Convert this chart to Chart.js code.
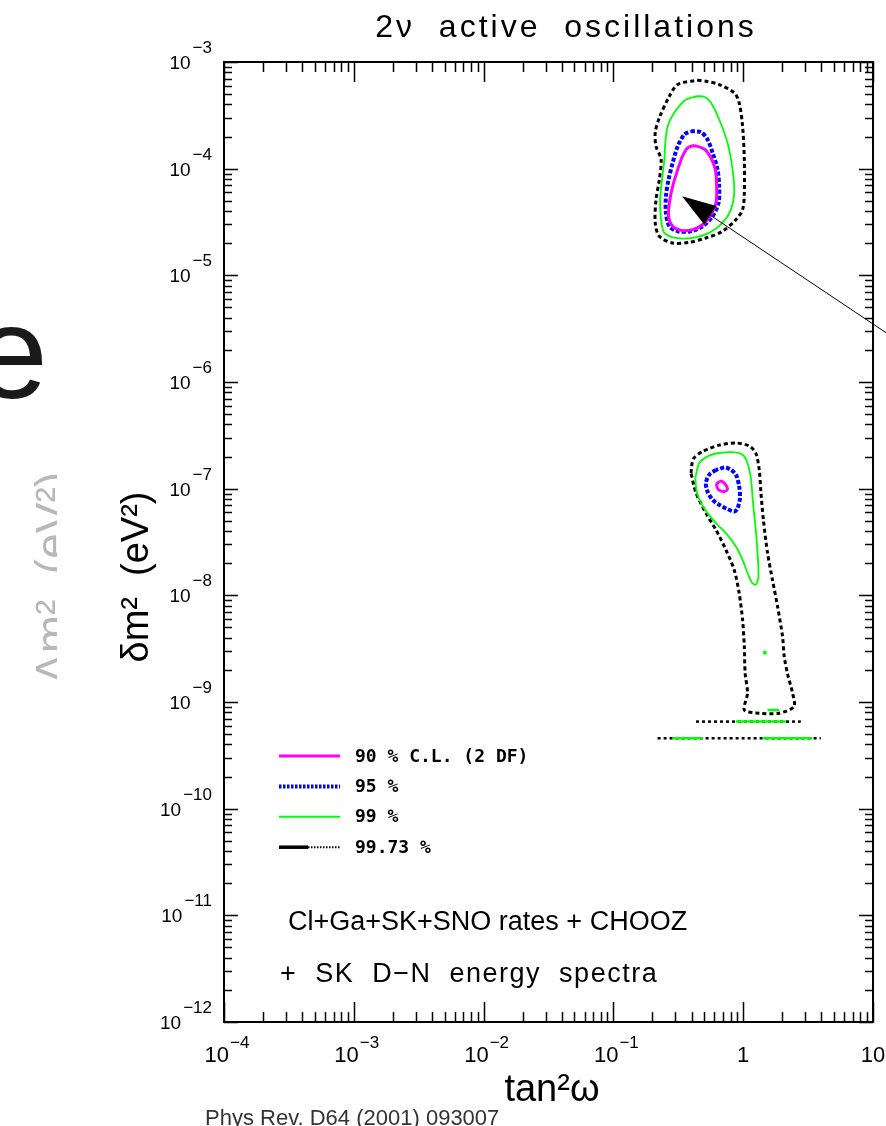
<!DOCTYPE html>
<html><head><meta charset="utf-8">
<script src="https://cdn.jsdelivr.net/npm/chart.js@4.4.0/dist/chart.umd.min.js"></script>
<style>html,body{margin:0;padding:0;background:#fff;overflow:hidden}#wrap{position:relative;width:886px;height:1126px}</style>
</head><body><div id="wrap"><canvas id="c" width="886" height="1126"></canvas></div>
<script>
// ---------- texts ----------
const titleText = '2\u03bd  active  oscillations';
const xTitle = 'tan\u00b2\u03c9';
const yTitle = '\u03b4m\u00b2  (eV\u00b2)';
const legendLabels = ['90 % C.L. (2 DF)', '95 %', '99 %', '99.73 %'];
const noteLines = ['Cl+Ga+SK+SNO rates + CHOOZ', '+  SK  D\u2212N  energy  spectra'];
const sourceText = 'Phys Rev. D64 (2001) 093007';
const fadedText = '\u0394m\u00b2  (eV\u00b2)';

// ---------- ticks ----------
const xTickValues = [1e-4, 1e-3, 1e-2, 1e-1, 1, 10];
const xTickLabels = [['10','\u22124'],['10','\u22123'],['10','\u22122'],['10','\u22121'],['1',''],['10','']];
const yTickValues = [1e-3,1e-4,1e-5,1e-6,1e-7,1e-8,1e-9,1e-10,1e-11,1e-12];
const yTickLabels = [['10','\u22123'],['10','\u22124'],['10','\u22125'],['10','\u22126'],['10','\u22127'],['10','\u22128'],['10','\u22129'],['10','\u221210'],['10','\u221211'],['10','\u221212']];
const decadeSteps = [1,2,3,4,5,6,7,8,9];

// ---------- contour data [tan^2 w, dm^2] ----------
const lma90 = [[0.420,1.65e-4],[0.501,1.53e-4],[0.565,1.26e-4],[0.610,9.8e-5],[0.624,6.84e-5],[0.617,4.78e-5],[0.565,3.71e-5],[0.486,2.99e-5],[0.407,2.68e-5],[0.332,2.64e-5],[0.286,2.88e-5],[0.266,3.58e-5],[0.270,4.78e-5],[0.286,6.84e-5],[0.313,9.8e-5],[0.341,1.31e-4],[0.373,1.57e-4]];
const lma95 = [[0.396,2.24e-4],[0.473,2.2e-4],[0.531,1.88e-4],[0.581,1.41e-4],[0.634,9.8e-5],[0.653,6.84e-5],[0.646,4.78e-5],[0.581,3.58e-5],[0.486,2.88e-5],[0.396,2.59e-5],[0.313,2.59e-5],[0.270,2.88e-5],[0.254,3.85e-5],[0.254,5.51e-5],[0.266,7.9e-5],[0.286,1.13e-4],[0.313,1.62e-4],[0.352,2.09e-4]];
const lma99 = [[0.445,4.78e-4],[0.501,4.72e-4],[0.565,4.14e-4],[0.653,2.89e-4],[0.757,1.75e-4],[0.828,9.8e-5],[0.853,5.93e-5],[0.804,4.13e-5],[0.693,3.1e-5],[0.547,2.5e-5],[0.407,2.24e-5],[0.303,2.24e-5],[0.247,2.5e-5],[0.233,3.33e-5],[0.229,5.13e-5],[0.237,7.9e-5],[0.247,1.22e-4],[0.251,1.75e-4],[0.262,2.5e-4],[0.294,3.34e-4],[0.362,4.45e-4]];
const lma9973 = [[0.445,6.75e-4],[0.516,6.6e-4],[0.653,6.15e-4],[0.853,5.14e-4],[0.931,4.14e-4],[0.989,2.5e-4],[1.02,1.22e-4],[1.02,5.93e-5],[0.989,4.13e-5],[0.879,3.33e-5],[0.693,2.59e-5],[0.516,2.24e-5],[0.385,2.04e-5],[0.286,2.01e-5],[0.226,2.32e-5],[0.210,3.1e-5],[0.213,5.13e-5],[0.226,7.9e-5],[0.233,1.22e-4],[0.213,1.62e-4],[0.210,2.17e-4],[0.226,3.0e-4],[0.270,4.78e-4],[0.313,6.15e-4]];

const low90 = [[0.653,1.17e-7],[0.624,1.09e-7],[0.646,9.77e-8],[0.715,9.4e-8],[0.757,9.9e-8],[0.728,1.10e-7],[0.686,1.17e-7]];
const low95 = [[0.617,1.50e-7],[0.547,1.35e-7],[0.516,1.13e-7],[0.531,9.4e-8],[0.581,7.87e-8],[0.653,7.06e-8],[0.757,6.44e-8],[0.853,6.11e-8],[0.904,6.55e-8],[0.944,8.17e-8],[0.931,1.05e-7],[0.879,1.35e-7],[0.804,1.50e-7],[0.728,1.58e-7]];
const low99 = [[0.428,1.26e-7],[0.459,1.74e-7],[0.547,2.04e-7],[0.653,2.16e-7],[0.828,2.20e-7],[0.989,2.08e-7],[1.08,1.74e-7],[1.15,1.21e-7],[1.19,7.33e-8],[1.25,4.11e-8],[1.29,2.49e-8],[1.31,1.50e-8],[1.25,1.26e-8],[1.17,1.31e-8],[1.08,1.62e-8],[0.989,2.15e-8],[0.879,2.87e-8],[0.736,3.83e-8],[0.617,4.75e-8],[0.531,5.9e-8],[0.473,7.33e-8],[0.438,9.4e-8]];
const low9973 = [[0.396,1.40e-7],[0.412,1.90e-7],[0.486,2.23e-7],[0.653,2.56e-7],[0.879,2.68e-7],[1.11,2.52e-7],[1.25,2.16e-7],[1.33,1.50e-7],[1.37,9.1e-8],[1.43,5.1e-8],[1.54,2.49e-8],[1.68,1.40e-8],[1.84,7.85e-9],[2.01,4.11e-9],[2.07,2.67e-9],[2.19,1.86e-9],[2.40,1.21e-9],[2.47,9.06e-10],[1.89,7.85e-10],[1.33,7.85e-10],[1.02,8.4e-10],[1.08,1.21e-9],[1.035,1.86e-9],[1.02,3.31e-9],[0.989,5.9e-9],[0.931,1.05e-8],[0.853,1.73e-8],[0.736,2.67e-8],[0.617,4.11e-8],[0.516,5.9e-8],[0.433,9.1e-8]];

const band9973a = [[0.433,6.55e-10],[2.78,6.55e-10]];
const band9973b = [[0.219,4.57e-10],[3.96,4.57e-10]];
const band99a = [[0.879,6.55e-10],[2.13,6.55e-10]];
const band99b1 = [[0.286,4.57e-10],[0.486,4.57e-10]];
const band99b2 = [[1.41,4.57e-10],[3.41,4.57e-10]];
const band99c = [[1.54,8.4e-10],[1.89,8.4e-10]];
const spot99 = [[1.47,2.9e-9]];

// annotation arrow (data coordinates)
const arrowTip = [0.338, 5.5e-5];
const arrowTail = [12.6, 2.9e-6];

// ---------- styles ----------
const C90 = '#ff00ff', C95 = '#0000ff', C99 = '#00ff00', C9973 = '#000000';
const FONT = '"Liberation Sans", Arial, sans-serif';

const pts = p => p.map(q => ({x: q[0], y: q[1]}));
const loop = p => pts(p.concat([p[0]]));
function line(data, color, width, dash, tension) {
  return {data, borderColor: color, backgroundColor: color, borderWidth: width, borderDash: dash || [],
          showLine: true, pointRadius: 0, tension: tension === undefined ? 0.3 : tension, fill: false};
}
const datasets = [
  line(loop(lma90), C90, 3),
  line(loop(low90), C90, 3),
  line(loop(lma95), C95, 4, [4, 2]),
  line(loop(low95), C95, 4, [4, 2]),
  line(loop(lma99), C99, 1.8),
  line(loop(low99), C99, 1.8),
  line(pts(band99a), C99, 2.5, [], 0),
  line(pts(band99b1), C99, 2.5, [], 0),
  line(pts(band99b2), C99, 2.5, [], 0),
  line(pts(band99c), C99, 2.5, [], 0),
  {data: pts(spot99), showLine: false, pointRadius: 2.5, pointStyle: 'rect', backgroundColor: C99, borderColor: C99, borderWidth: 0},
  line(loop(lma9973), C9973, 3, [4, 3]),
  line(loop(low9973), C9973, 3, [4, 3], 0.25),
  line(pts(band9973a), C9973, 2.5, [3, 3], 0),
  line(pts(band9973b), C9973, 2.5, [3, 3], 0)
];

function supLabel(ctx, base, sup, left, baseY, supY, fB, fS, gap) {
  ctx.font = fB; ctx.fillText(base, left, baseY);
  const wB = ctx.measureText(base).width;
  if (sup) { ctx.font = fS; ctx.fillText(sup, left + wB + gap, supY); }
}
function labelWidth(ctx, base, sup, fB, fS, gap) {
  ctx.font = fB; let w = ctx.measureText(base).width;
  if (sup) { ctx.font = fS; w += gap + ctx.measureText(sup).width; }
  return w;
}
function spacing(ctx, v) { if ('letterSpacing' in ctx) ctx.letterSpacing = v; }

const decorPlugin = {
  id: 'decor',
  afterDraw(chart) {
    const {ctx, chartArea: a, scales: {x, y}} = chart;
    ctx.save();
    // ---- ticks (inward, all four sides) ----
    ctx.strokeStyle = '#000'; ctx.lineWidth = 1.5; ctx.setLineDash([]);
    ctx.beginPath();
    xTickValues.forEach(v => decadeSteps.forEach(m => {
      const val = v * m; if (val > x.max * 1.0001) return;
      const px = Math.round(x.getPixelForValue(val)) + 0.5, len = m === 1 ? 20 : 10;
      ctx.moveTo(px, a.bottom); ctx.lineTo(px, a.bottom - len);
      ctx.moveTo(px, a.top); ctx.lineTo(px, a.top + len);
    }));
    yTickValues.forEach(v => decadeSteps.forEach(m => {
      const val = v * m; if (val > y.max * 1.0001) return;
      const py = Math.round(y.getPixelForValue(val)) + 0.5, len = m === 1 ? 14 : 8;
      ctx.moveTo(a.left, py); ctx.lineTo(a.left + len, py);
      ctx.moveTo(a.right, py); ctx.lineTo(a.right - len, py);
    }));
    ctx.stroke();
    ctx.lineWidth = 2;
    ctx.strokeRect(a.left, a.top, a.right - a.left, a.bottom - a.top);

    // ---- tick labels ----
    ctx.fillStyle = '#000'; ctx.textAlign = 'left'; ctx.textBaseline = 'alphabetic';
    const fxB = '22px ' + FONT, fxS = '17px ' + FONT;
    xTickValues.forEach((v, i) => {
      const [b, s] = xTickLabels[i];
      const px = x.getPixelForValue(v);
      const w = labelWidth(ctx, b, s, fxB, fxS, 1);
      const left = s ? px + 3 - w / 2 : px - w / 2;
      supLabel(ctx, b, s, left, a.bottom + 40, a.bottom + 26, fxB, fxS, 1);
    });
    const fyB = '19px ' + FONT, fyS = '17px ' + FONT;
    yTickValues.forEach((v, i) => {
      const [b, s] = yTickLabels[i];
      const py = y.getPixelForValue(v);
      const w = labelWidth(ctx, b, s, fyB, fyS, 2);
      supLabel(ctx, b, s, a.left - 12 - w, py + 7, py - 9, fyB, fyS, 2);
    });

    // ---- titles ----
    ctx.textAlign = 'center';
    ctx.font = '32px ' + FONT;
    spacing(ctx, '3px');
    ctx.fillText(titleText, 566, 37);
    spacing(ctx, '0px');
    ctx.font = '38px ' + FONT;
    ctx.fillText(xTitle, 552, 1101);
    ctx.save();
    ctx.translate(148, 577); ctx.rotate(-Math.PI / 2);
    ctx.fillText(yTitle, 0, 0);
    ctx.restore();

    // ---- legend ----
    const lx0 = a.left + 55, lx1 = a.left + 116, ly0 = a.top + 694, dy = 30.4;
    const legendStyles = [
      {c: C90, w: 3, d: []}, {c: C95, w: 4, d: [2.5, 1.5]}, {c: C99, w: 2, d: []}, {c: C9973, w: 3.5, d: []}
    ];
    legendStyles.forEach((st, i) => {
      const ly = ly0 + i * dy;
      ctx.strokeStyle = st.c; ctx.lineWidth = st.w; ctx.setLineDash(st.d);
      ctx.beginPath();
      if (i === 3) {
        ctx.moveTo(lx0, ly); ctx.lineTo(lx0 + 29, ly); ctx.stroke();
        ctx.lineWidth = 2; ctx.setLineDash([1.5, 1.5]);
        ctx.beginPath(); ctx.moveTo(lx0 + 29, ly); ctx.lineTo(lx1, ly);
      } else { ctx.moveTo(lx0, ly); ctx.lineTo(lx1, ly); }
      ctx.stroke();
      ctx.setLineDash([]);
      ctx.fillStyle = '#000'; ctx.textAlign = 'left'; ctx.textBaseline = 'middle';
      ctx.font = 'bold 18px "DejaVu Sans Mono", monospace';
      ctx.fillText(legendLabels[i], lx1 + 15, ly + 1);
    });

    // ---- notes ----
    ctx.textBaseline = 'alphabetic'; ctx.textAlign = 'left';
    ctx.font = '27px ' + FONT;
    ctx.fillText(noteLines[0], 288, 930);
    spacing(ctx, '1.5px');
    ctx.fillText(noteLines[1], 280, 982);
    spacing(ctx, '0px');

    // ---- arrow annotation ----
    const tx = x.getPixelForValue(arrowTip[0]), ty = y.getPixelForValue(arrowTip[1]);
    const sx = x.getPixelForValue(arrowTail[0]), sy = y.getPixelForValue(arrowTail[1]);
    const ang = Math.atan2(ty - sy, tx - sx), L = 34, H = 11;
    const bx = tx - L * Math.cos(ang), by = ty - L * Math.sin(ang);
    ctx.strokeStyle = '#000'; ctx.lineWidth = 1;
    ctx.beginPath(); ctx.moveTo(sx, sy); ctx.lineTo(bx, by); ctx.stroke();
    ctx.fillStyle = '#000';
    ctx.beginPath(); ctx.moveTo(tx, ty);
    ctx.lineTo(bx + H * Math.sin(ang), by - H * Math.cos(ang));
    ctx.lineTo(bx - H * Math.sin(ang), by + H * Math.cos(ang));
    ctx.closePath(); ctx.fill();

    // ---- surrounding slide fragments ----
    ctx.save();
    ctx.beginPath(); ctx.rect(0, 0, 57, 1126); ctx.clip();
    ctx.fillStyle = 'rgba(0,0,0,0.28)';
    ctx.font = '46px ' + FONT; ctx.textAlign = 'center';
    ctx.translate(68, 578); ctx.rotate(-Math.PI / 2);
    ctx.fillText(fadedText, 0, 0);
    ctx.restore();
    ctx.save();
    ctx.fillStyle = '#1a1a1a'; ctx.font = '132px ' + FONT; ctx.textAlign = 'right';
    ctx.fillText('e', 48, 398);
    ctx.restore();
    ctx.fillStyle = '#333'; ctx.font = '22px ' + FONT; ctx.textAlign = 'left';
    ctx.fillText(sourceText, 205, 1125);
    ctx.restore();
  }
};

new Chart(document.getElementById('c'), {
  type: 'scatter',
  data: {datasets},
  options: {
    responsive: false, animation: false, devicePixelRatio: 1, events: [],
    layout: {padding: {left: 224, top: 62, right: 13, bottom: 104}},
    plugins: {legend: {display: false}, tooltip: {enabled: false}, title: {display: false}},
    scales: {
      x: {type: 'logarithmic', min: 1e-4, max: 10, display: false},
      y: {type: 'logarithmic', min: 1e-12, max: 1e-3, display: false}
    }
  },
  plugins: [decorPlugin]
});
</script></body></html>
